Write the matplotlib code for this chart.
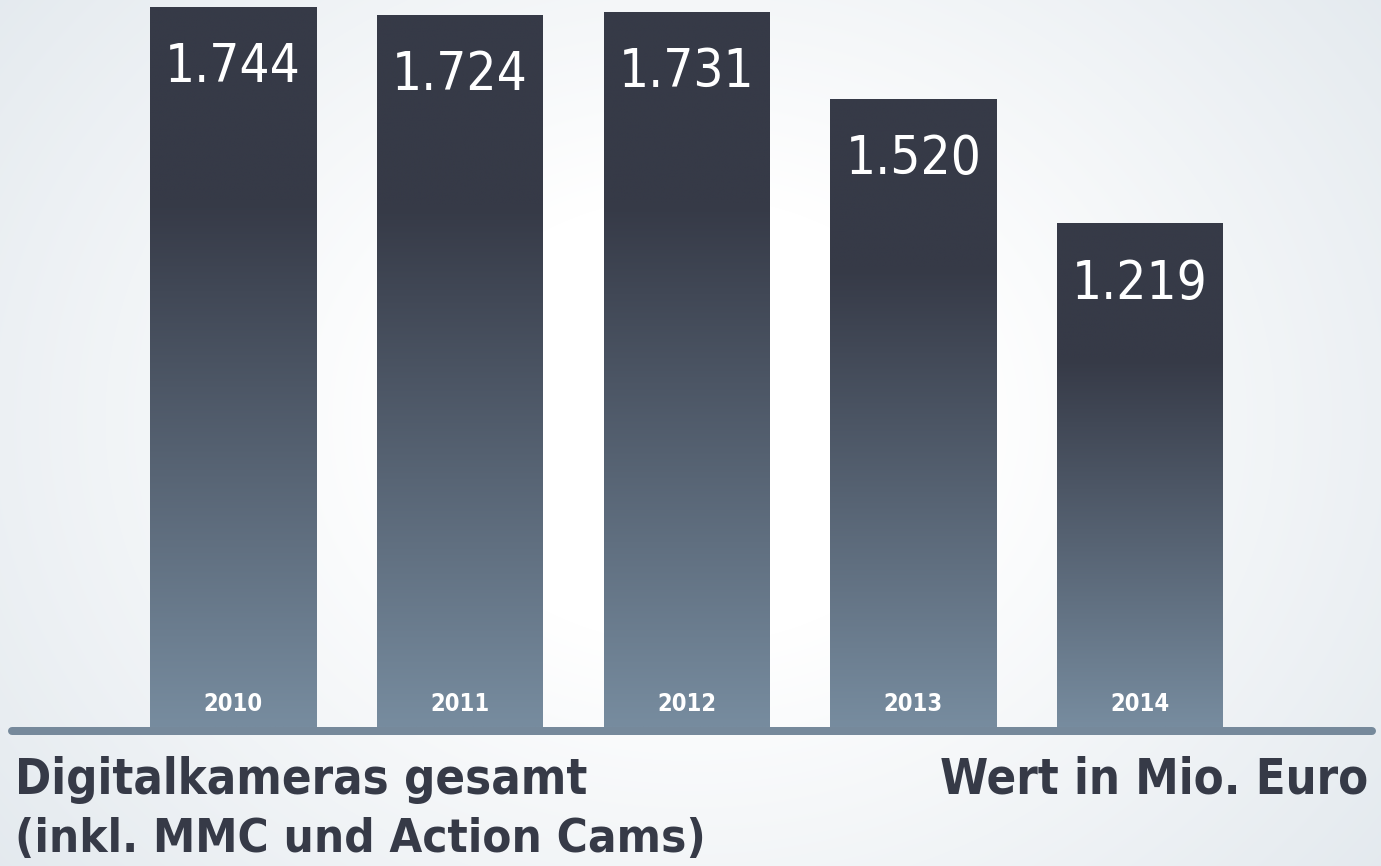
import numpy as np
import matplotlib
matplotlib.use("Agg")
import matplotlib.pyplot as plt
from matplotlib.colors import LinearSegmentedColormap, to_rgb

years = ["2010", "2011", "2012", "2013", "2014"]
values = [1744, 1724, 1731, 1520, 1219]
value_labels = ["1.744", "1.724", "1.731", "1.520", "1.219"]
title_left_1 = "Digitalkameras gesamt"
title_left_2 = "(inkl. MMC und Action Cams)"
title_right = "Wert in Mio. Euro"

W, H = 1381, 866
DPI = 100
DARK = "#363a47"
LIGHT = "#778c9f"
TEXT = "#363a47"
FONT = dict(family="DejaVu Sans", fontstretch="condensed")

fig = plt.figure(figsize=(W / DPI, H / DPI), dpi=DPI)

# background radial gradient
bg = fig.add_axes([0, 0, 1, 1], zorder=0)
yy, xx = np.mgrid[0:H, 0:W]
r = np.sqrt(((xx - 690) / 780.0) ** 2 + ((yy - 420) / 640.0) ** 2)
t = np.clip((r - 0.35) / 0.8, 0, 1)
c0 = np.array(to_rgb("#ffffff"))
c1 = np.array(to_rgb("#e3e9ee"))
img = c0[None, None, :] * (1 - t[..., None]) + c1[None, None, :] * t[..., None]
bg.imshow(img, extent=(0, W, H, 0), aspect="auto", interpolation="bilinear")
bg.set_xlim(0, W)
bg.set_ylim(H, 0)
bg.axis("off")

# main axes in pixel-matched data coords
ax = fig.add_axes([0, 0, 1, 1], zorder=1)
ax.patch.set_alpha(0)
px_per_unit_x = 226.75
x0_px = 233
base_px = 727  # bar bottoms, from top
top_px_for_max = 7
upp = values[0] / (base_px - top_px_for_max)  # value units per pixel
xlim = (-x0_px / px_per_unit_x, (W - x0_px) / px_per_unit_x)
ylim = (-(H - base_px) * upp, base_px * upp)
ax.axis("off")

cmap = LinearSegmentedColormap.from_list(
    "bar", [(0.0, LIGHT), (0.73, DARK), (1.0, DARK)])
grad = np.linspace(1, 0, 256).reshape(-1, 1)  # top=1 (dark)

bw = 166 / px_per_unit_x
xs = np.arange(len(values))
bars = ax.bar(xs, values, width=bw, color="none", zorder=2)
for b, v in zip(bars, values):
    x = b.get_x()
    ax.imshow(grad, cmap=cmap, vmin=0, vmax=1, aspect="auto",
              extent=(x, x + bw, 0, v), zorder=2, interpolation="bilinear")
ax.set_xlim(*xlim)
ax.set_ylim(*ylim)

for x, v, lab, yr in zip(xs, values, value_labels, years):
    ax.annotate(lab, (x, v), xytext=(0, -75), textcoords="offset pixels",
                ha="center", va="baseline", color="white", fontsize=38,
                zorder=4, **FONT)
    ax.annotate(yr, (x, 0), xytext=(0, 16), textcoords="offset pixels",
                ha="center", va="baseline", color="white", fontsize=17,
                fontweight="bold", zorder=4, **FONT)

# baseline
ax.plot([(12 - x0_px) / px_per_unit_x, (1372 - x0_px) / px_per_unit_x],
        [-4 * upp, -4 * upp], color="#76899b", lw=8 * 72 / DPI,
        solid_capstyle="round", zorder=3)

fig.text(15 / W, 1 - 794 / H, title_left_1, ha="left", va="baseline",
         color=TEXT, fontsize=35, fontweight="bold", **FONT)
fig.text(15 / W, 1 - 852 / H, title_left_2, ha="left",
         va="baseline", color=TEXT, fontsize=34, fontweight="bold", **FONT)
fig.text(1368 / W, 1 - 794 / H, title_right, ha="right", va="baseline",
         color=TEXT, fontsize=35, fontweight="bold", **FONT)

fig.savefig("out.png", dpi=DPI)
